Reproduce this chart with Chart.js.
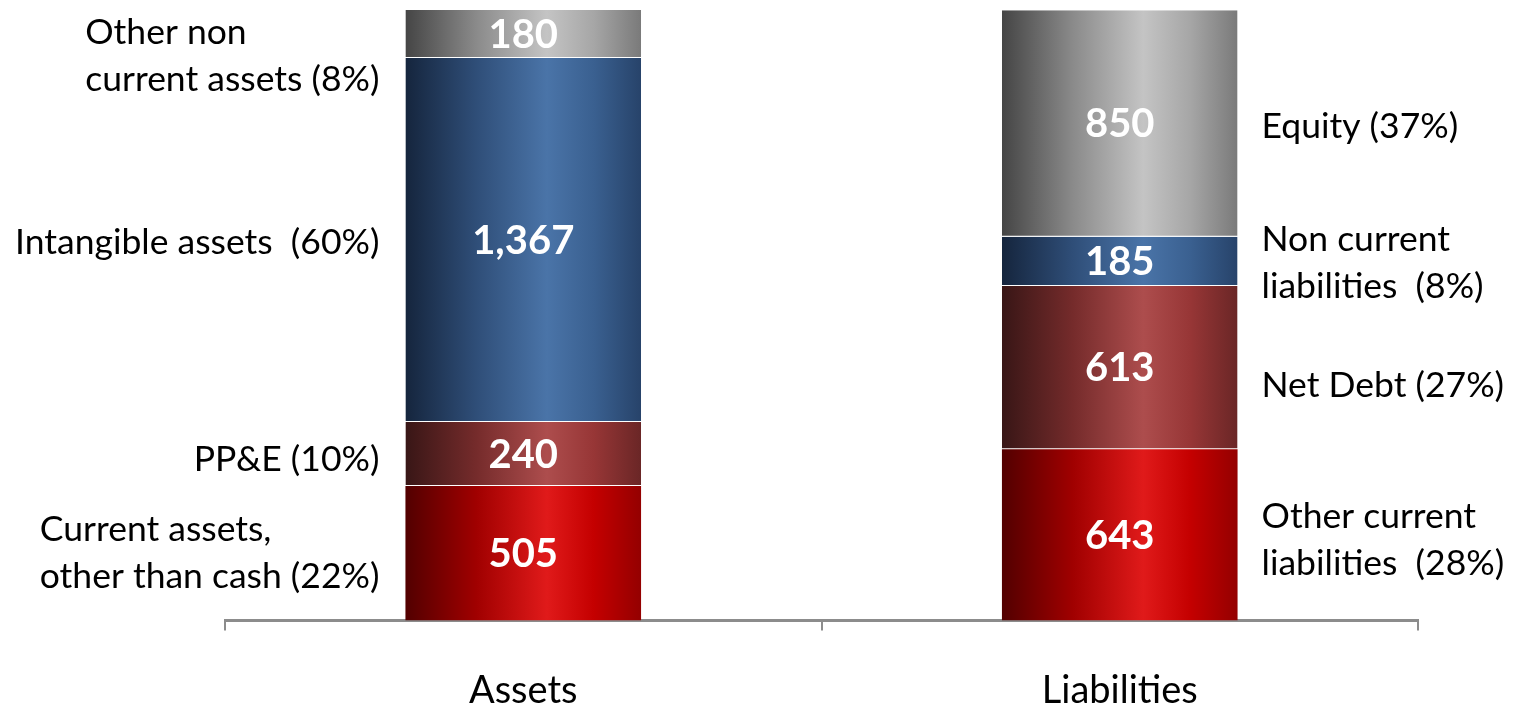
<!DOCTYPE html>
<html>
<head>
<meta charset="utf-8">
<script src="https://cdn.jsdelivr.net/npm/chart.js@4.4.1/dist/chart.umd.min.js"></script>
<style>
  html, body { margin: 0; padding: 0; background: #ffffff; }
  #wrap { width: 1513px; height: 708px; position: relative; }
</style>
</head>
<body>
<div id="wrap"><canvas id="bs"></canvas></div>
<script>
// Balance sheet split, stacked bottom to top
const categories = ['Assets', 'Liabilities'];
const currentSegment  = [505, 643];   // Current assets other than cash / Other current liabilities
const middleSegment   = [240, 613];   // PP&E / Net Debt
const longTermSegment = [1367, 185];  // Intangible assets / Non current liabilities
const topSegment      = [180, 850];   // Other non current assets / Equity

const assetLabels = [
  ['Current assets,', 'other than cash (22%)'],
  ['PP&E (10%)'],
  ['Intangible assets  (60%)'],
  ['Other non', 'current assets (8%)']
];
const liabilityLabels = [
  ['Other current', 'liabilities  (28%)'],
  ['Net Debt (27%)'],
  ['Non current', 'liabilities  (8%)'],
  ['Equity (37%)']
];
// vertical nudges for the side captions (px)
const assetLabelShift = [0, 6, 3, 22];
const liabilityLabelShift = [5, 18, 2, 3];

// horizontal "cylinder" shading stops per segment
const shades = [
  ['#520000', '#a00000', '#e01a1a', '#c40000', '#940000'],
  ['#381616', '#752b2b', '#ad4d4d', '#973636', '#6a2626'],
  ['#15253d', '#2f4e78', '#4a74a8', '#3a6090', '#27436a'],
  ['#454545', '#8a8a8a', '#c4c4c4', '#a6a6a6', '#7a7a7a']
];
const stops = [0, 0.3, 0.6, 0.8, 1];

const BAR_CAT = 0.79, BAR_BAR = 0.5;
const FONT = 'Lato, "Open Sans", sans-serif';

function shadeFor(ctx, idx) {
  const chart = ctx.chart;
  const x = chart.scales && chart.scales.x;
  if (!chart.chartArea || !x || ctx.dataIndex === undefined) return shades[idx][2];
  const cx = x.getPixelForValue(ctx.dataIndex);
  const catW = x.width / categories.length;
  const w = catW * BAR_CAT * BAR_BAR;
  const g = chart.ctx.createLinearGradient(cx - w / 2, 0, cx + w / 2, 0);
  stops.forEach((s, i) => g.addColorStop(s, shades[idx][i]));
  return g;
}

const seriesList = [currentSegment, middleSegment, longTermSegment, topSegment];
const datasets = seriesList.map((vals, i) => ({
  data: vals,
  backgroundColor: (c) => shadeFor(c, i),
  borderColor: 'rgba(255,255,255,0.2)',
  borderWidth: i === 0 ? 0 : { top: 0, bottom: 1, left: 0, right: 0 },
  borderSkipped: false,
  categoryPercentage: BAR_CAT,
  barPercentage: BAR_BAR
}));

const fmt = (v) => v.toLocaleString('en-US');

const valueLabels = {
  id: 'valueLabels',
  afterDatasetsDraw(chart) {
    const c = chart.ctx;
    c.save();
    c.fillStyle = '#ffffff';
    c.font = 'bold 40px ' + FONT;
    c.textAlign = 'center';
    c.textBaseline = 'middle';
    chart.data.datasets.forEach((ds, di) => {
      chart.getDatasetMeta(di).data.forEach((el, i) => {
        c.fillText(fmt(ds.data[i]), el.x, (el.y + el.base) / 2 + 1);
      });
    });
    c.restore();
  }
};

const sideLabels = {
  id: 'sideLabels',
  afterDatasetsDraw(chart) {
    const c = chart.ctx;
    c.save();
    c.fillStyle = '#000000';
    c.font = '35.5px ' + FONT;
    c.textBaseline = 'middle';
    c.textAlign = 'left';
    const lh = 47;
    chart.data.datasets.forEach((ds, di) => {
      const meta = chart.getDatasetMeta(di);
      // left side, right-aligned block
      const a = meta.data[0];
      const aLines = assetLabels[di];
      const aMid = (a.y + a.base) / 2 + assetLabelShift[di];
      const aW = Math.max(...aLines.map(t => c.measureText(t).width));
      const aRight = a.x - a.width / 2 - 26;
      aLines.forEach((t, k) => {
        c.fillText(t, aRight - aW, aMid + (k - (aLines.length - 1) / 2) * lh);
      });
      // right side, left-aligned block
      const b = meta.data[1];
      const bLines = liabilityLabels[di];
      const bMid = (b.y + b.base) / 2 + liabilityLabelShift[di];
      const bLeft = b.x + b.width / 2 + 24;
      bLines.forEach((t, k) => {
        c.fillText(t, bLeft, bMid + (k - (bLines.length - 1) / 2) * lh);
      });
    });
    c.restore();
  }
};

new Chart(document.getElementById('bs'), {
  type: 'bar',
  data: { labels: categories, datasets },
  options: {
    responsive: true,
    maintainAspectRatio: false,
    animation: false,
    events: [],
    layout: { padding: { left: 225, right: 95, top: 10, bottom: -44 } },
    plugins: { legend: { display: false }, tooltip: { enabled: false } },
    scales: {
      x: {
        stacked: true,
        grid: { offset: true, drawOnChartArea: false, drawTicks: true, tickLength: 10, color: '#8c8c8c', lineWidth: 2 },
        border: { display: true, color: '#8c8c8c', width: 3 },
        ticks: { color: '#000000', font: { family: FONT, size: 38, lineHeight: 1.2 }, padding: 38 }
      },
      y: {
        stacked: true,
        display: false,
        min: 0,
        max: 2292
      }
    }
  },
  plugins: [valueLabels, sideLabels]
});
</script>
</body>
</html>
